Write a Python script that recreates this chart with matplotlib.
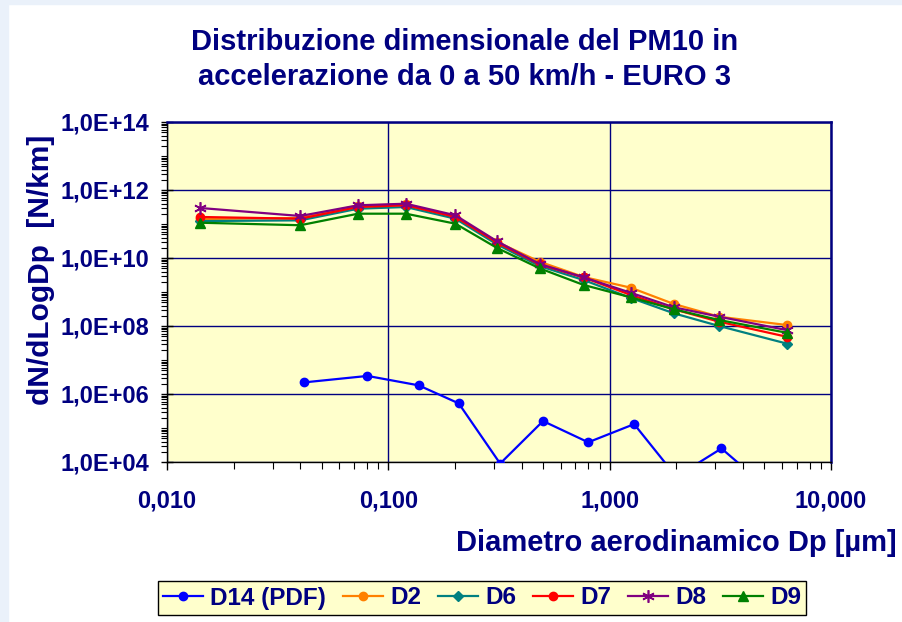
import matplotlib
matplotlib.use('Agg')
import matplotlib.pyplot as plt
import numpy as np
from matplotlib.ticker import LogLocator, FuncFormatter, NullFormatter, FixedLocator
from matplotlib.patches import Rectangle

plt.rcParams['font.family'] = ['Liberation Sans', 'DejaVu Sans']

# ---- data ----
dp_main = [0.0141, 0.040, 0.073, 0.120, 0.201, 0.31, 0.482, 0.763, 1.245, 1.95, 3.12, 6.3]
dp_d14 = [0.0418, 0.0805, 0.137, 0.208, 0.32, 0.50, 0.80, 1.29, 2.0, 3.2, 5.5]

d14 = [2.2e6, 3.4e6, 1.8e6, 5.3e5, 9.0e3, 1.6e5, 3.8e4, 1.3e5, 3.7e3, 2.5e4, 1.2e3]
d2 = [1.40e11, 1.50e11, 3.50e11, 3.75e11, 1.66e11, 2.96e10, 7.8e9, 2.76e9, 1.34e9, 4.44e8, 1.88e8, 1.07e8]
d6 = [1.22e11, 1.28e11, 2.82e11, 3.16e11, 1.43e11, 2.50e10, 5.8e9, 2.25e9, 6.7e8, 2.36e8, 1.0e8, 3.05e7]
d7 = [1.61e11, 1.43e11, 3.16e11, 3.55e11, 1.61e11, 2.82e10, 6.44e9, 2.67e9, 8.2e8, 3.10e8, 1.34e8, 4.84e7]
d8 = [2.96e11, 1.72e11, 3.55e11, 3.95e11, 1.80e11, 3.10e10, 6.67e9, 2.70e9, 9.5e8, 3.55e8, 1.88e8, 7.6e7]
d9 = [1.09e11, 9.2e10, 2.01e11, 2.01e11, 1.02e11, 1.97e10, 4.98e9, 1.61e9, 6.98e8, 3.10e8, 1.50e8, 6.35e7]

series_labels = ['D14 (PDF)', 'D2', 'D6', 'D7', 'D8', 'D9']
title_lines = ['Distribuzione dimensionale del PM10 in',
               'accelerazione da 0 a 50 km/h - EURO 3']
xlabel_text = 'Diametro aerodinamico Dp [\u00b5m]'
ylabel_text = 'dN/dLogDp  [N/km]'

NAVY = '#000080'

W, H = 903, 622
fig = plt.figure(figsize=(W / 100, H / 100), dpi=100)
fig.patch.set_facecolor('white')
fig.patches.append(Rectangle((0, 0), 8 / W, 1, transform=fig.transFigure,
                             color='#EAF1FA', zorder=0))
fig.patches.append(Rectangle((0, 1 - 4 / H), 1, 4 / H, transform=fig.transFigure,
                             color='#EAF1FA', zorder=0))

L, R, T, B = 167, 831, 122, 462
ax = fig.add_axes([L / W, 1 - B / H, (R - L) / W, (B - T) / H])
ax.set_facecolor('#FFFFCC')
ax.set_xscale('log')
ax.set_yscale('log')
ax.set_xlim(0.01, 10)
ax.set_ylim(1e4, 1e14)

styles = [
    dict(color='#0000FF', marker='o', ms=6),
    dict(color='#FF8000', marker='o', ms=6),
    dict(color='#008080', marker='D', ms=5),
    dict(color='#FF0000', marker='o', ms=6),
    dict(color='#800080', marker=(6, 2, 0), ms=9, mew=1.2),
    dict(color='#008000', marker='^', ms=7),
]
xs = [dp_d14, dp_main, dp_main, dp_main, dp_main, dp_main]
ys = [d14, d2, d6, d7, d8, d9]
for x, y, lab, st in zip(xs, ys, series_labels, styles):
    ax.plot(x, y, lw=1.6, label=lab, zorder=3, **st)

# ticks
ax.yaxis.set_major_locator(FixedLocator([10.0 ** k for k in range(4, 15, 2)]))
ax.yaxis.set_minor_locator(LogLocator(base=10, subs=np.arange(1, 10), numticks=100))
ax.yaxis.set_minor_formatter(NullFormatter())
ax.yaxis.set_major_formatter(FuncFormatter(lambda v, p: '1,0E+%02d' % round(np.log10(v))))

ax.xaxis.set_major_locator(FixedLocator([0.01, 0.1, 1, 10]))
ax.xaxis.set_minor_locator(LogLocator(base=10, subs=np.arange(2, 10), numticks=100))
ax.xaxis.set_minor_formatter(NullFormatter())
ax.xaxis.set_major_formatter(FuncFormatter(lambda v, p: ('%.3f' % v).replace('.', ',')))

ax.tick_params(axis='y', which='major', direction='inout', length=8, width=1, pad=9,
               labelsize=17, labelcolor=NAVY)
ax.tick_params(axis='y', which='minor', direction='out', length=4, width=0.8)
ax.tick_params(axis='x', which='major', direction='out', length=6, width=1, pad=14,
               labelsize=17, labelcolor=NAVY)
ax.tick_params(axis='x', which='minor', direction='out', length=5, width=0.8)
for lab in ax.get_xticklabels() + ax.get_yticklabels():
    lab.set_fontweight('bold')

ax.grid(True, which='major', axis='both', color=NAVY, lw=1.0)
ax.grid(False, which='minor')

for s in ['left', 'bottom']:
    ax.spines[s].set_color('black')
    ax.spines[s].set_linewidth(1.0)
for s in ['top', 'right']:
    ax.spines[s].set_color(NAVY)
    ax.spines[s].set_linewidth(1.8)

for line, base_y in zip(title_lines, [50, 85]):
    fig.text(465 / W, 1 - base_y / H, line, ha='center', va='baseline', fontsize=21,
             fontweight='bold', color=NAVY)
fig.text(897 / W, 1 - 543 / H, xlabel_text, ha='right', va='center', fontsize=21,
         fontweight='bold', color=NAVY)
fig.text(41 / W, 1 - 270 / H, ylabel_text, ha='center', va='center', rotation=90,
         fontsize=21.5, fontweight='bold', color=NAVY)

leg = fig.legend(loc='center', bbox_to_anchor=(482 / W, 1 - 598 / H), ncol=6,
                 prop={'size': 17.5, 'weight': 'bold'}, labelcolor=NAVY,
                 frameon=True, fancybox=False, edgecolor='black', facecolor='#FFFFCC',
                 framealpha=1, handlelength=1.65, handletextpad=0.3, columnspacing=0.68,
                 borderpad=0.22, borderaxespad=0)
leg.get_frame().set_linewidth(1.0)

fig.savefig('out.png', dpi=100)
